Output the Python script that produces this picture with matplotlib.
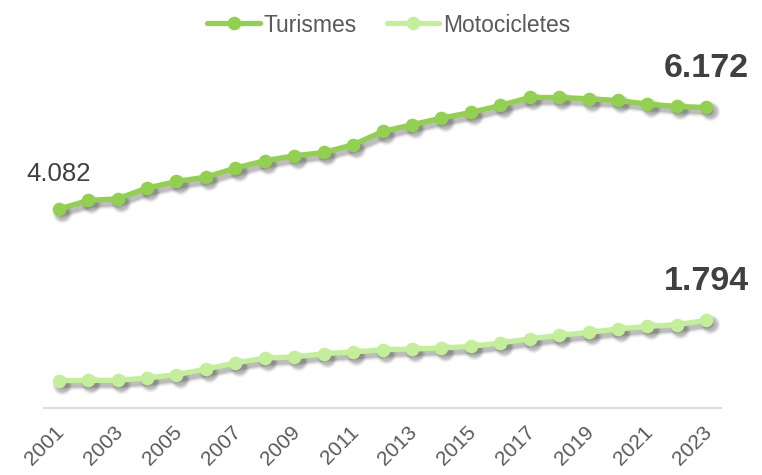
import matplotlib.pyplot as plt
from matplotlib.transforms import ScaledTranslation

years = list(range(2001, 2024))
turismes = [4082, 4259, 4294, 4514, 4650, 4740, 4925, 5076, 5178, 5246, 5405, 5678,
            5816, 5954, 6069, 6213, 6378, 6378, 6351, 6316, 6242, 6193, 6172]
motocicletes = [552, 558, 560, 607, 675, 792, 915, 1018, 1039, 1107, 1142, 1189,
                1203, 1224, 1257, 1327, 1415, 1483, 1545, 1615, 1668, 1703, 1794]
tick_years = list(range(2001, 2024, 2))

c_tur = '#92d050'
c_moto = '#c4ef9a'
txt = '#595959'
num = '#404040'
font = 'Liberation Sans'

fig = plt.figure(figsize=(7.62, 4.75), dpi=100)
ax = fig.add_axes([44 / 762, 0.1421, 677 / 762, 0.7164])


def draw_series(y, color, label):
    # soft drop shadow: stacked, offset, faint copies
    shift = ScaledTranslation(2.4 / 72, -2.8 / 72, fig.dpi_scale_trans)
    for lw, ms, a in [(8.5, 14.5, 0.04), (7.0, 13, 0.06), (5.6, 11.5, 0.08), (4.4, 10, 0.10)]:
        ax.plot(years, y, color='black', alpha=a, lw=lw, marker='o', ms=ms,
                mec='none', solid_capstyle='round', transform=ax.transData + shift, zorder=1)
    ax.plot(years, y, color=color, lw=3.8, marker='o', ms=9.8, mec='none',
            solid_capstyle='round', label=label, zorder=3)


draw_series(turismes, c_tur, 'Turismes')
draw_series(motocicletes, c_moto, 'Motocicletes')

ax.set_xlim(2000.5, 2023.5)
ax.set_ylim(0, 7000)
ax.set_yticks([])
for s in ['top', 'right', 'left']:
    ax.spines[s].set_visible(False)
ax.spines['bottom'].set_color('#d9d9d9')
ax.spines['bottom'].set_linewidth(1.3)
ax.set_xticks(tick_years)
ax.set_xticklabels([str(t) for t in tick_years], rotation=45, ha='right',
                   rotation_mode='anchor', fontsize=15, color=txt, family=font)
ax.tick_params(axis='x', length=0, pad=11)
lbl_shift = ScaledTranslation(-3 / 72, 0, fig.dpi_scale_trans)
for lbl in ax.get_xticklabels():
    lbl.set_transform(lbl.get_transform() + lbl_shift)

ax.annotate('4.082', (years[0], turismes[0]), xytext=(0, 35), textcoords='offset pixels',
            ha='center', va='center', fontsize=18.5, color=num, family=font)
ax.annotate('6.172', (years[-1], turismes[-1]), xytext=(0, 39), textcoords='offset pixels',
            ha='center', va='center', fontsize=24.5, fontweight='bold', color=num, family=font)
ax.annotate('1.794', (years[-1], motocicletes[-1]), xytext=(0, 39), textcoords='offset pixels',
            ha='center', va='center', fontsize=24.5, fontweight='bold', color=num, family=font)

leg = fig.legend(loc='upper center', bbox_to_anchor=(0.51, 1.015), ncol=2, frameon=False,
                 handlelength=2.3, columnspacing=1.3, handletextpad=0.15,
                 prop={'family': font, 'size': 16.5})
for t in leg.get_texts():
    t.set_color(txt)

fig.savefig('out.png', dpi=100)
